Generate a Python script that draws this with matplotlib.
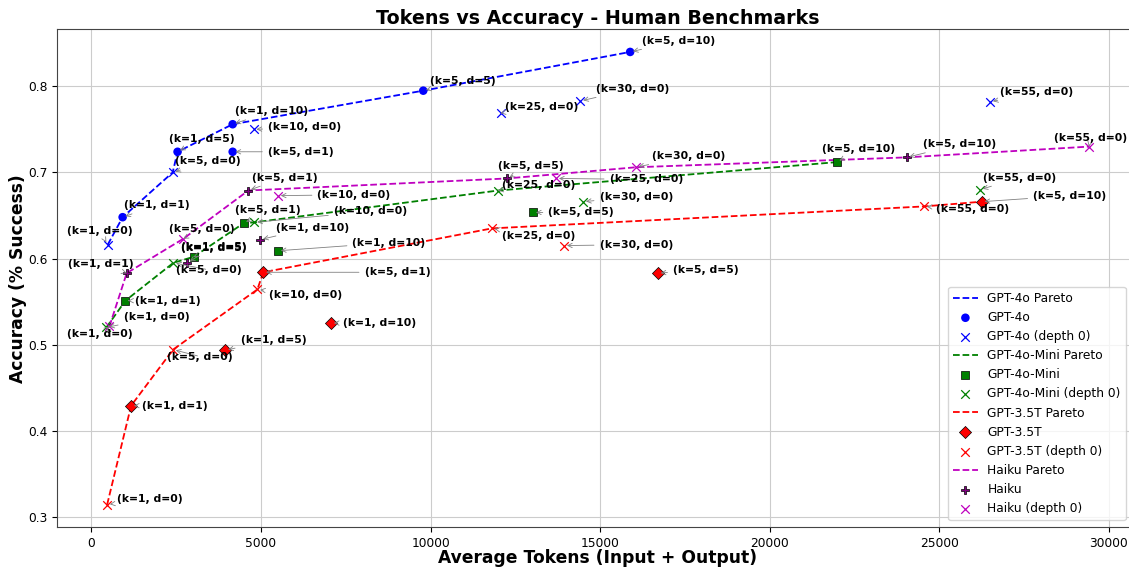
import matplotlib.pyplot as plt
import numpy as np

# --- データ ---
kd_labels = ["(k=1, d=1)", "(k=1, d=5)", "(k=5, d=1)", "(k=1, d=10)", "(k=5, d=5)", "(k=5, d=10)"]
d0_labels = ["(k=1, d=0)", "(k=5, d=0)", "(k=10, d=0)", "(k=25, d=0)", "(k=30, d=0)", "(k=55, d=0)"]

gpt4o_tokens = [920, 2540, 4165, 4165, 9785, 15886]
gpt4o_acc = [0.648, 0.724, 0.724, 0.756, 0.795, 0.840]
gpt4o_d0_tokens = [480, 2396, 4783, 12063, 14420, 26504]
gpt4o_d0_acc = [0.616, 0.700, 0.750, 0.769, 0.783, 0.782]

mini_tokens = [1002, 3015, 4489, 5502, 13026, 21986]
mini_acc = [0.551, 0.602, 0.641, 0.609, 0.6535, 0.712]
mini_d0_tokens = [442, 2417, 4804, 11995, 14500, 26201]
mini_d0_acc = [0.520, 0.595, 0.642, 0.679, 0.666, 0.680]

gpt35_tokens = [1170, 3949, 5069, 7065, 16702, 26251]
gpt35_acc = [0.429, 0.4935, 0.584, 0.525, 0.583, 0.666]
gpt35_d0_tokens = [463, 2408, 4892, 11810, 13940, 24550]
gpt35_d0_acc = [0.314, 0.4942, 0.564, 0.635, 0.615, 0.6605]

haiku_tokens = [1040, 2829, 4627, 4981, 12252, 24040]
haiku_acc = [0.583, 0.595, 0.679, 0.622, 0.693, 0.7175]
haiku_d0_tokens = [530, 2711, 5502, 13705, 16053, 29413]
haiku_d0_acc = [0.521, 0.623, 0.673, 0.693, 0.706, 0.730]

# --- ラベル位置 (点からのオフセット, ピクセル) ---
label_offsets = {
    "GPT-4o": [(34, 12), (24, 13), (68, 0), (39, 13), (40, 10), (48, 11)],
    "GPT-4o d0": [(-8, 14), (35, 11), (51, 2), (41, 6), (52, 12), (46, 10)],
    "GPT-4o-Mini": [(42, 0), (20, 9), (24, 13), (111, 8), (48, 0), (22, 13)],
    "GPT-4o-Mini d0": [(50, 10), (35, -7), (116, 11), (40, 6), (53, 5), (40, 12)],
    "GPT-3.5T": [(44, 0), (48, 10), (134, 0), (49, 0), (48, 3), (88, 6)],
    "GPT-3.5T d0": [(43, 6), (27, -7), (48, -6), (47, -8), (72, 1), (49, -3)],
    "Haiku": [(-26, 9), (26, 16), (36, 13), (52, 12), (24, 12), (53, 13)],
    "Haiku d0": [(-10, -8), (18, 10), (76, 1), (90, -1), (53, 11), (2, 9)],
}

models = [
    ("GPT-4o", gpt4o_tokens, gpt4o_acc, gpt4o_d0_tokens, gpt4o_d0_acc, "blue", "blue", "o", None),
    ("GPT-4o-Mini", mini_tokens, mini_acc, mini_d0_tokens, mini_d0_acc, "green", "green", "s", "black"),
    ("GPT-3.5T", gpt35_tokens, gpt35_acc, gpt35_d0_tokens, gpt35_d0_acc, "red", "red", "D", "black"),
    ("Haiku", haiku_tokens, haiku_acc, haiku_d0_tokens, haiku_d0_acc, "m", "purple", "P", "black"),
]


def pareto(tokens, acc):
    """トークン数で並べて精度が更新される点だけ残す"""
    order = np.argsort(tokens, kind="stable")
    px, py = [], []
    best = -1
    for i in order:
        if acc[i] > best:
            px.append(tokens[i])
            py.append(acc[i])
            best = acc[i]
    return px, py


fig = plt.figure(figsize=(11.29, 5.67), dpi=100)
ax = fig.add_axes([57.3 / 1129, 1 - 527.3 / 567, (1138 - 57.3) / 1129, (527.3 - 29.3) / 567])

for name, tk, ac, tk0, ac0, lcol, mcol, mk, ec in models:
    all_t = list(tk) + list(tk0)
    all_a = list(ac) + list(ac0)
    px, py = pareto(all_t, all_a)
    ax.plot(px, py, "--", color=lcol, lw=1.3, label=f"{name} Pareto", zorder=2)
    ax.scatter(tk, ac, marker=mk, s=38, color=mcol, edgecolors=ec if ec else "none",
               linewidths=0.5, label=name, zorder=3)
    ax.scatter(tk0, ac0, marker="x", s=38, color=lcol, linewidths=0.9,
               label=f"{name} (depth 0)", zorder=3)

    for lab, x, y, off in zip(kd_labels, tk, ac, label_offsets[name]):
        ax.annotate(lab, (x, y), xytext=off, textcoords="offset pixels",
                    ha="center", va="center", fontsize=7.8, fontweight="bold",
                    arrowprops=dict(arrowstyle="->", color="gray", lw=0.6), zorder=4)
    for lab, x, y, off in zip(d0_labels, tk0, ac0, label_offsets[name + " d0"]):
        ax.annotate(lab, (x, y), xytext=off, textcoords="offset pixels",
                    ha="center", va="center", fontsize=7.8, fontweight="bold",
                    arrowprops=dict(arrowstyle="->", color="gray", lw=0.6), zorder=4)

ax.set_title("Tokens vs Accuracy - Human Benchmarks", fontsize=13.7, fontweight="bold", pad=4)
ax.set_xlabel("Average Tokens (Input + Output)", fontsize=12.3, fontweight="bold", labelpad=-1)
ax.set_ylabel("Accuracy (% Success)", fontsize=12.3, fontweight="bold", labelpad=0.5)
ax.tick_params(labelsize=8.8)
ax.grid(True, color="#cccccc", lw=0.8)
ax.set_axisbelow(True)
for sp in ax.spines.values():
    sp.set_color("#444444")

ax.legend(loc="lower right", bbox_to_anchor=((1133 - 57.3) / 1080.7, 0.0), fontsize=8.8,
          borderaxespad=0.6)

fig.savefig("out.png", dpi=100)
